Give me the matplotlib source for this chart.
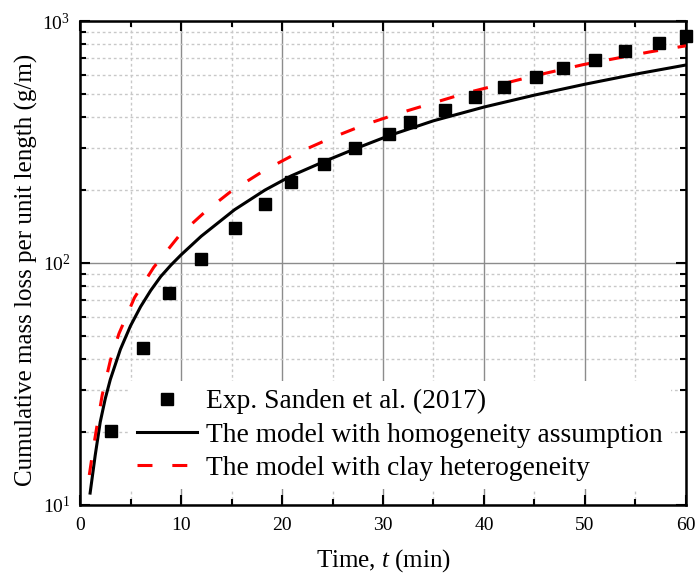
import matplotlib
matplotlib.use("Agg")
import matplotlib.pyplot as plt
from matplotlib.ticker import LogLocator, LogFormatterMathtext, MultipleLocator, NullFormatter

plt.rcParams["font.family"] = ["Liberation Serif", "DejaVu Serif"]
plt.rcParams["mathtext.fontset"] = "custom"
plt.rcParams["mathtext.rm"] = "Liberation Serif"
plt.rcParams["mathtext.it"] = "Liberation Serif:italic"
plt.rcParams["mathtext.bf"] = "Liberation Serif:bold"

# Experimental data, Sanden et al. (2017)
exp_t = [3.1, 6.2, 8.8, 12.0, 15.3, 18.3, 20.9, 24.2, 27.2, 30.6,
         32.7, 36.1, 39.1, 42.0, 45.1, 47.8, 51.0, 54.0, 57.3, 60.0]
exp_m = [20.2, 44.6, 75, 104, 139, 175, 216, 256, 299, 341,
         382, 428, 484, 532, 587, 638, 688, 750, 809, 870]

# Model with homogeneity assumption
hom_t = [1.0, 1.5, 2.0, 2.5, 3.0, 4.0, 5.0, 6.0, 7.0, 8.0, 9.0, 10.0,
         12.0, 15.3, 18.3, 20.9, 24.2, 27.2, 30.6, 35.0, 40.0, 45.0,
         50.0, 55.0, 60.0]
hom_m = [11.2, 16, 22, 27.5, 33, 44, 55, 66, 77, 88, 98, 108,
         129, 166, 200, 229, 263, 296, 336, 387, 441, 494,
         548, 603, 658]

# Model with clay heterogeneity
het_t = [0.92, 1.3, 1.7, 2.2, 3.0, 3.85, 5.4, 7.3, 9.9, 12.4, 14.9, 18.15,
         21.45, 24.75, 28.05, 31.7, 38.3, 45.1, 49.8, 56.4, 60.0]
het_m = [13.3, 17, 21.5, 28.5, 39.5, 51, 72, 96, 131, 163, 197, 240,
         284, 327, 371, 417, 505, 595, 660, 745, 790]

fig = plt.figure(figsize=(6.97, 5.77), dpi=100)
ax = fig.add_axes([0.1148, 0.1248, 0.8694, 0.8388])

ax.plot(exp_t, exp_m, linestyle="none", marker="s", markersize=8,
        color="black", label="Exp. Sanden et al. (2017)", zorder=4, clip_on=False)
ax.plot(hom_t, hom_m, color="black", lw=2.2,
        label="The model with homogeneity assumption", zorder=3)
ax.plot(het_t, het_m, color="#ff0000", lw=2.2, linestyle=(0, (4.9, 6.5)),
        label="The model with clay heterogeneity", zorder=3)

ax.set_yscale("log")
ax.set_xlim(0, 60)
ax.set_ylim(10, 1000)

ax.xaxis.set_major_locator(MultipleLocator(10))
ax.xaxis.set_minor_locator(MultipleLocator(5))
ax.yaxis.set_major_locator(LogLocator(base=10))
ax.yaxis.set_major_formatter(LogFormatterMathtext())
ax.yaxis.set_minor_locator(LogLocator(base=10, subs=range(2, 10)))
ax.yaxis.set_minor_formatter(NullFormatter())

ax.grid(True, which="major", color="#8c8c8c", lw=1.0, linestyle="-")
ax.grid(True, which="minor", color="#c8c8c8", lw=1.0, linestyle=(0, (2, 2)))
ax.set_axisbelow(True)

ax.tick_params(which="both", direction="in", top=True, right=True,
               labelsize=14, width=1.5)
ax.tick_params(which="major", length=7, pad=7)
ax.tick_params(axis="x", which="major", pad=9)
ax.tick_params(which="minor", length=4)
for s in ax.spines.values():
    s.set_linewidth(1.8)

ax.set_xlabel("Time, $t$ (min)", fontsize=18, labelpad=9)
ax.set_ylabel("Cumulative mass loss per unit length (g/m)", fontsize=18, labelpad=3)
ax.yaxis.label.set_y(0.486)

leg = ax.legend(loc="lower left", bbox_to_anchor=(0.0804, 0.033), borderaxespad=0,
                fontsize=19.8, frameon=True, fancybox=False, framealpha=1,
                edgecolor="none", facecolor="white", handlelength=2.18,
                handletextpad=0.33, labelspacing=0.29, borderpad=0.3)
leg.set_zorder(5)

fig.savefig("out.png", dpi=100)
